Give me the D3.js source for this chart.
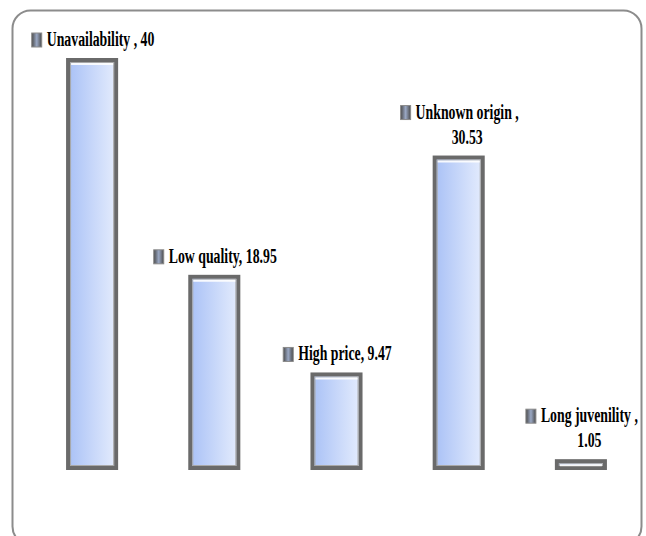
<!DOCTYPE html>
<html>
<head>
<meta charset="utf-8">
<script src="https://cdn.jsdelivr.net/npm/d3@7"></script>
<style>
html,body{margin:0;padding:0;background:#fff;}
svg{display:block;}
</style>
</head>
<body>
<svg id="chart" width="646" height="536"></svg>
<script>
const categories = ["Unavailability ", "Low quality", "High price", "Unknown origin ", "Long juvenility "];
const values = [40, 18.95, 9.47, 30.53, 1.05];
const valueLabels = ["40", "18.95", "9.47", "30.53", "1.05"];
const wrapLabel = [false, false, false, true, true];

const W = 646, H = 536;
const svg = d3.select("#chart");
const defs = svg.append("defs");

const g1 = defs.append("linearGradient").attr("id", "barFill").attr("x1", "0").attr("x2", "1").attr("y1", "0").attr("y2", "0");
g1.append("stop").attr("offset", "0").attr("stop-color", "#a9c1f6");
g1.append("stop").attr("offset", "1").attr("stop-color", "#e4ecfd");

const g2 = defs.append("linearGradient").attr("id", "keyFill").attr("x1", "0").attr("x2", "1").attr("y1", "0").attr("y2", "0");
g2.append("stop").attr("offset", "0").attr("stop-color", "#4a4a4a");
g2.append("stop").attr("offset", "0.5").attr("stop-color", "#9aa8c4");
g2.append("stop").attr("offset", "1").attr("stop-color", "#4a4a4a");

// frame
svg.append("rect")
  .attr("x", 12.5).attr("y", 10.5)
  .attr("width", 629).attr("height", 534)
  .attr("rx", 18).attr("ry", 18)
  .attr("fill", "#fff").attr("stroke", "#8c8c8c").attr("stroke-width", 2);

const x = d3.scaleBand()
  .domain(categories)
  .range([31, 642])
  .paddingInner(0.574)
  .paddingOuter(0.287);

const y = d3.scaleLinear().domain([0, 40]).range([470, 58]);

const bars = svg.append("g").selectAll("g.bar")
  .data(categories.map((c, i) => ({c, v: values[i], i})))
  .join("g").attr("class", "bar");

bars.append("rect")
  .attr("x", d => x(d.c) + 2)
  .attr("y", d => y(d.v) + 2)
  .attr("width", x.bandwidth() - 4)
  .attr("height", d => Math.max(2, y(0) - y(d.v) - 4))
  .attr("fill", "url(#barFill)")
  .attr("stroke", "#6a6a6a")
  .attr("stroke-width", 4);

// inner lighter bevel line
bars.append("rect")
  .attr("x", d => x(d.c) + 4.5)
  .attr("y", d => y(d.v) + 4.5)
  .attr("width", x.bandwidth() - 9)
  .attr("height", d => Math.max(1, y(0) - y(d.v) - 9))
  .attr("fill", "none")
  .attr("stroke", "#a8a8a8")
  .attr("stroke-width", 1);

// top highlight
bars.append("line")
  .attr("x1", d => x(d.c) + 5)
  .attr("x2", d => x(d.c) + x.bandwidth() - 5)
  .attr("y1", d => y(d.v) + 6)
  .attr("y2", d => y(d.v) + 6)
  .attr("stroke", "#ffffff")
  .attr("stroke-width", 2)
  .attr("opacity", 0.9);

// labels
const SX = 0.69, FS = 20, LH = 25, KEYW = 10, KEYH = 14, GAP = 5;
const labels = svg.append("g")
  .attr("font-family", "'Liberation Serif', 'Times New Roman', serif")
  .attr("font-weight", "bold")
  .attr("font-size", FS)
  .attr("fill", "#000");

categories.forEach((c, i) => {
  const cx = x(c) + x.bandwidth() / 2 + 1;
  const top = y(values[i]);
  const line1 = wrapLabel[i] ? c + "," : c + ", " + valueLabels[i];
  const line2 = wrapLabel[i] ? valueLabels[i] : null;
  const base1 = line2 ? top - 12 - LH : top - 12;
  const grp = labels.append("g");
  const t1 = grp.append("text").text(line1);
  const w = t1.node().getComputedTextLength() * SX;
  const total = KEYW + GAP + w;
  const x0 = cx - total / 2;
  t1.attr("transform", `translate(${x0 + KEYW + GAP},${base1}) scale(${SX},1)`);
  grp.append("rect")
    .attr("x", x0).attr("y", base1 - KEYH + 1)
    .attr("width", KEYW).attr("height", KEYH)
    .attr("fill", "url(#keyFill)").attr("stroke", "#8a8a8a").attr("stroke-width", 1);
  if (line2) {
    const t2 = grp.append("text").text(line2).attr("text-anchor", "middle");
    t2.attr("transform", `translate(${x0 + KEYW + GAP + w / 2},${base1 + LH}) scale(${SX},1)`);
  }
});
</script>
</body>
</html>
